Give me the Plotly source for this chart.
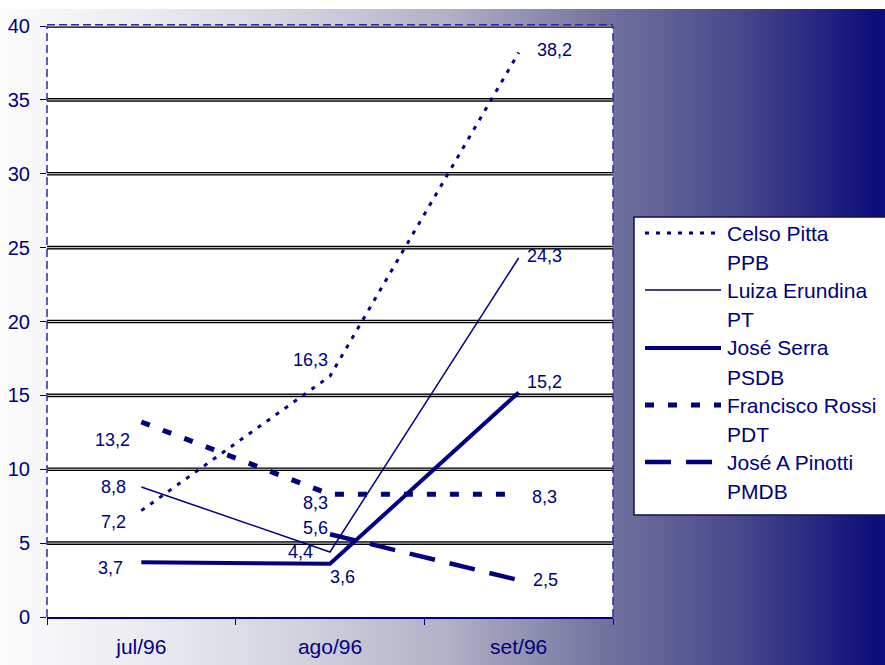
import plotly.graph_objects as go

# ---------------- data ----------------
months = ["jul/96", "ago/96", "set/96"]
celso_pitta = [7.2, 16.3, 38.2]
luiza_erundina = [8.8, 4.4, 24.3]
jose_serra = [3.7, 3.6, 15.2]
francisco_rossi = [13.2, 8.3, 8.3]
jose_pinotti = [None, 5.6, 2.5]
names = ["Celso Pitta", "Luiza Erundina", "José Serra", "Francisco Rossi", "José A Pinotti"]
parties = ["PPB", "PT", "PSDB", "PDT", "PMDB"]
y_ticks = [0, 5, 10, 15, 20, 25, 30, 35, 40]

series = [celso_pitta, luiza_erundina, jose_serra, francisco_rossi, jose_pinotti]

# ---------------- styles ----------------
NAVY = "#000080"
FONT = "Liberation Sans, Arial, sans-serif"
styles = [
    dict(width=3, dash="4px,7px"),
    dict(width=1.5, dash="solid"),
    dict(width=4, dash="solid"),
    dict(width=5, dash="9px,14px"),
    dict(width=4.5, dash="26px,15px"),
]
# label pixel offsets (dx, dy) per series per point
label_offsets = [
    [(-28, -11), (-20, 16), (36, 3)],
    [(-28, 0), (-30, 0), (26, 2)],
    [(-31, -6), (12, -13), (26, 10)],
    [(-29, -18), (-15, -9), (26, -3)],
    [None, (-15, 6), (27, 0)],
]

W, H = 885, 665
L, R, T, B = 47, 613, 26, 617


def fx(px):
    return (px - L) / (R - L)


def fy(py):
    return (B - py) / (B - T)


fig = go.Figure()
for vals, name, st in zip(series, names, styles):
    fig.add_trace(go.Scatter(
        x=months, y=vals, mode="lines", name=name, showlegend=False,
        line=dict(color=NAVY, width=st["width"], dash=st["dash"]),
        connectgaps=False, hoverinfo="skip",
    ))

shapes = []
# background gradient (horizontal)
stops = [(0, (252, 252, 253)), (150, (234, 234, 240)), (300, (210, 210, 223)),
         (450, (176, 176, 199)), (600, (116, 116, 158)), (740, (72, 72, 140)),
         (878, (12, 12, 122)), (885, (16, 16, 128))]


def col_at(x):
    for (x0, c0), (x1, c1) in zip(stops[:-1], stops[1:]):
        if x0 <= x <= x1:
            t = (x - x0) / (x1 - x0) if x1 > x0 else 0
            return "rgb(%d,%d,%d)" % tuple(round(a + (b - a) * t) for a, b in zip(c0, c1))
    return "rgb(%d,%d,%d)" % stops[-1][1]


step = 4
for px in range(0, W + step, step):
    shapes.append(dict(type="rect", xref="paper", yref="paper",
                       x0=fx(px), x1=fx(px + step + 0.6), y0=fy(H + 4), y1=fy(9),
                       fillcolor=col_at(px + step / 2), line=dict(width=0), layer="below"))
# white plotting area
shapes.append(dict(type="rect", xref="paper", yref="paper", x0=0, x1=1, y0=0, y1=1,
                   fillcolor="white", line=dict(width=0), layer="below"))
# double grid lines
for v in y_ticks[1:]:
    shapes.append(dict(type="line", xref="paper", yref="y", x0=0, x1=1, y0=v, y1=v,
                       line=dict(color="black", width=3.6), layer="below"))
    shapes.append(dict(type="line", xref="paper", yref="y", x0=0, x1=1, y0=v, y1=v,
                       line=dict(color="#d8d8e8", width=1), layer="below"))
# dashed border (left, top, right)
for (x0, y0, x1, y1) in [(0, 0, 0, 1), (0, 1.002, 1, 1.002), (1, 0, 1, 1)]:
    shapes.append(dict(type="line", xref="paper", yref="paper", x0=x0, y0=y0, x1=x1, y1=y1,
                       line=dict(color="#2828a8", width=1.5, dash="8px,4px"), layer="above"))

# custom legend
shapes.append(dict(type="rect", xref="paper", yref="paper",
                   x0=fx(634), x1=fx(892), y0=fy(515), y1=fy(217),
                   fillcolor="white", line=dict(color="#101050", width=1.5), layer="above"))
annotations = []
row_y = [233, 290, 348, 405, 462]
for i, (name, party, st) in enumerate(zip(names, parties, styles)):
    y = row_y[i]
    shapes.append(dict(type="line", xref="paper", yref="paper",
                       x0=fx(645), x1=fx(721), y0=fy(y), y1=fy(y),
                       line=dict(color=NAVY, width=st["width"], dash=st["dash"]), layer="above"))
    annotations.append(dict(xref="paper", yref="paper", x=fx(725), y=fy(y), text=name,
                            showarrow=False, xanchor="left", yanchor="middle",
                            font=dict(family=FONT, size=21, color=NAVY)))
    annotations.append(dict(xref="paper", yref="paper", x=fx(725), y=fy(y + 29), text=party,
                            showarrow=False, xanchor="left", yanchor="middle",
                            font=dict(family=FONT, size=21, color=NAVY)))

# data labels
for vals, offs in zip(series, label_offsets):
    for m, v, off in zip(months, vals, offs):
        if v is None:
            continue
        annotations.append(dict(xref="x", yref="y", x=m, y=v,
                                text=("%.1f" % v).replace(".", ","),
                                showarrow=False, xanchor="center", yanchor="middle",
                                xshift=off[0], yshift=off[1],
                                font=dict(family=FONT, size=18, color=NAVY)))

fig.update_layout(
    width=W, height=H,
    margin=dict(l=L, r=W - R, t=T, b=H - B, pad=0, autoexpand=False),
    paper_bgcolor="white", plot_bgcolor="rgba(0,0,0,0)",
    shapes=shapes, annotations=annotations,
    showlegend=False,
    xaxis=dict(type="category", categoryorder="array", categoryarray=months,
               range=[-0.5, 2.5], tickson="boundaries", ticks="outside", ticklen=6,
               tickcolor=NAVY, tickwidth=1.2, showline=True, linecolor=NAVY, linewidth=1.5,
               showgrid=False, zeroline=False, ticklabelstandoff=10, automargin=False,
               tickfont=dict(family=FONT, size=21, color=NAVY)),
    yaxis=dict(range=[0, 40], tickvals=y_ticks, ticks="outside", ticklen=6,
               tickcolor=NAVY, tickwidth=1.2, showline=False, showgrid=False,
               zeroline=False, ticklabelstandoff=6, automargin=False,
               tickfont=dict(family=FONT, size=20, color=NAVY)),
)

fig.write_html("out.html", config={"displayModeBar": False, "responsive": False},
               post_script="document.body.style.margin='0';document.body.style.overflow='hidden';")
